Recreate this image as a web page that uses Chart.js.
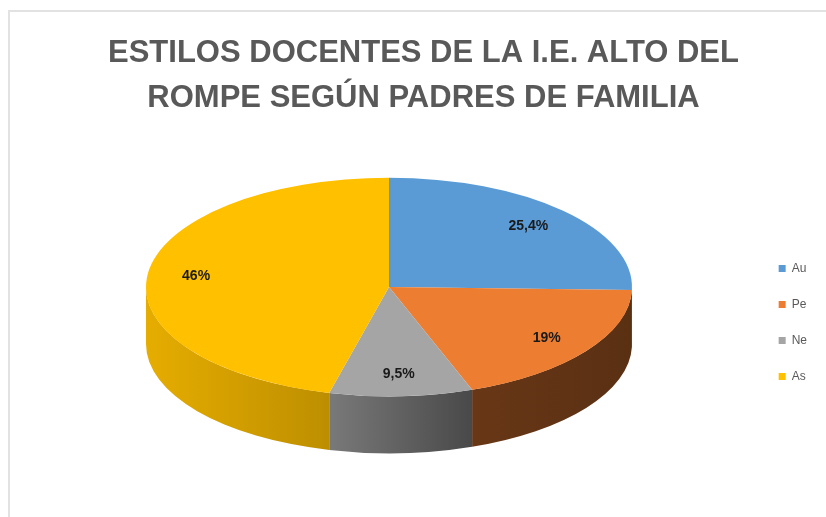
<!DOCTYPE html>
<html>
<head>
<meta charset="utf-8">
<script src="https://cdn.jsdelivr.net/npm/chart.js@4"></script>
<style>
  html, body { margin: 0; padding: 0; background: #fff; }
  #wrap { position: relative; width: 826px; height: 517px; overflow: hidden; }
  #frame { position: absolute; left: 8px; top: 10px; right: -10px; bottom: -10px;
           border-top: 2px solid #e2e2e2; border-left: 2px solid #e2e2e2; }
  canvas { position: absolute; left: 0; top: 0; }
</style>
</head>
<body>
<div id="wrap">
  <div id="frame"></div>
  <canvas id="c" width="826" height="517"></canvas>
</div>
<script>
const categories = ['Au', 'Pe', 'Ne', 'As'];
const values = [25.4, 19, 9.5, 46];
const colors = ['#5B9BD5', '#ED7D31', '#A5A5A5', '#FFC000'];
const titleLines = ['ESTILOS DOCENTES DE LA I.E. ALTO DEL', 'ROMPE SEGÚN PADRES DE FAMILIA'];

const PIE = { cx: 389, cy: 287, r: 243, k: 0.45, depth: 57 };

function shade(hex, f) {
  const n = parseInt(hex.slice(1), 16);
  const r = Math.round(((n >> 16) & 255) * f), g = Math.round(((n >> 8) & 255) * f), b = Math.round((n & 255) * f);
  return `rgb(${r},${g},${b})`;
}

const pie3d = {
  id: 'pie3d',
  afterLayout(chart) {
    // move the legend block down so it is centred beside the pie
    chart.legend.top += 128;
  },
  beforeDatasetsDraw(chart) {
    const ctx = chart.ctx;
    const arcs = chart.getDatasetMeta(0).data;
    const { cx, cy, r, k, depth } = PIE;
    ctx.save();
    arcs.forEach((a, i) => {
      const s = Math.max(a.startAngle, 0), e = Math.min(a.endAngle, Math.PI);
      if (s >= e) return;
      const g = ctx.createLinearGradient(cx - r, 0, cx + r, 0);
      g.addColorStop(0, shade(colors[i], 0.9));
      g.addColorStop(0.36, shade(colors[i], 0.75));
      g.addColorStop(0.67, shade(colors[i], 0.44));
      g.addColorStop(1, shade(colors[i], 0.38));
      ctx.beginPath();
      ctx.ellipse(cx, cy, r, r * k, 0, s, e);
      ctx.ellipse(cx, cy + depth, r, r * k, 0, e, s, true);
      ctx.closePath();
      ctx.fillStyle = g;
      ctx.fill();
    });
    ctx.restore();
    ctx.save();
    ctx.translate(cx, cy);
    ctx.scale(1, k);
    ctx.translate(-arcs[0].x, -arcs[0].y);
  },
  afterDatasetsDraw(chart) {
    const ctx = chart.ctx;
    ctx.restore();
    const arcs = chart.getDatasetMeta(0).data;
    const { cx, cy, r, k } = PIE;
    ctx.save();
    ctx.font = 'bold 14px "Liberation Sans", Arial, sans-serif';
    ctx.fillStyle = '#1a1a1a';
    ctx.textAlign = 'center';
    ctx.textBaseline = 'middle';
    arcs.forEach((a, i) => {
      const m = (a.startAngle + a.endAngle) / 2;
      const f = 0.8;
      const x = cx + r * f * Math.cos(m);
      const y = cy + r * k * f * Math.sin(m);
      ctx.fillText(String(values[i]).replace('.', ',') + '%', x, y);
    });
    ctx.restore();
  }
};

new Chart(document.getElementById('c'), {
  type: 'pie',
  data: {
    labels: categories,
    datasets: [{
      data: values,
      backgroundColor: colors,
      borderWidth: 0,
      radius: PIE.r,
      clip: false
    }]
  },
  options: {
    responsive: false,
    animation: false,
    events: [],
    layout: { padding: { left: 30, right: 9 } },
    plugins: {
      tooltip: { enabled: false },
      title: {
        display: true,
        text: titleLines,
        color: '#595959',
        font: { family: '"Liberation Sans", Arial, sans-serif', size: 31, weight: 'bold', lineHeight: 1.45 },
        padding: { top: 31, bottom: 10 }
      },
      legend: {
        position: 'right',
        labels: {
          boxWidth: 7,
          boxHeight: 7,
          padding: 24,
          color: '#595959',
          font: { family: '"Liberation Sans", Arial, sans-serif', size: 12 }
        }
      }
    }
  },
  plugins: [pie3d]
});
</script>
</body>
</html>
